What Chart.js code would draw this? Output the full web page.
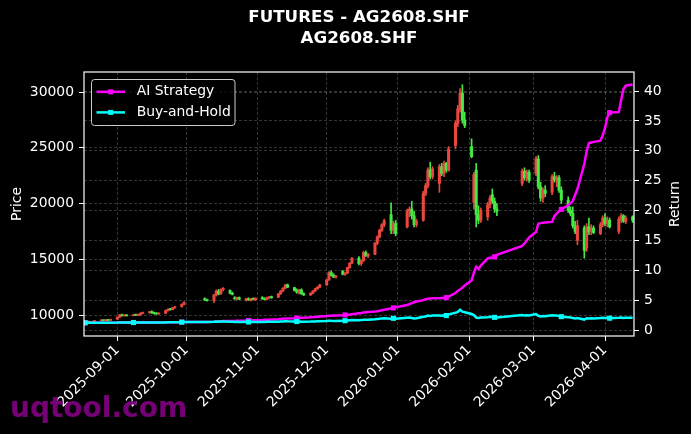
<!DOCTYPE html>
<html>
<head>
<meta charset="utf-8">
<title>FUTURES - AG2608.SHF</title>
<script src="https://cdn.jsdelivr.net/npm/chart.js@4.4.0/dist/chart.umd.min.js"></script>
<style>
  html, body { margin: 0; padding: 0; background: #000; }
  #wrap { width: 691px; height: 434px; }
</style>
</head>
<body>
<div id="wrap"><canvas id="chart" width="691" height="434"></canvas></div>
<script>
// trading days (SHFE calendar, holidays skipped)
const dates = [
  '2025-08-18','2025-08-19','2025-08-20','2025-08-21','2025-08-22','2025-08-25','2025-08-26','2025-08-27','2025-08-28','2025-08-29',
  '2025-09-01','2025-09-02','2025-09-03','2025-09-04','2025-09-05','2025-09-08','2025-09-09','2025-09-10','2025-09-11','2025-09-12',
  '2025-09-15','2025-09-16','2025-09-17','2025-09-18','2025-09-19','2025-09-22','2025-09-23','2025-09-24','2025-09-25','2025-09-26',
  '2025-09-29','2025-09-30',
  '2025-10-09','2025-10-10','2025-10-13','2025-10-14','2025-10-15','2025-10-16','2025-10-17','2025-10-20','2025-10-21','2025-10-22',
  '2025-10-23','2025-10-24','2025-10-27','2025-10-28','2025-10-29','2025-10-30','2025-10-31',
  '2025-11-03','2025-11-04','2025-11-05','2025-11-06','2025-11-07','2025-11-10','2025-11-11','2025-11-12','2025-11-13','2025-11-14',
  '2025-11-17','2025-11-18','2025-11-19','2025-11-20','2025-11-21','2025-11-24','2025-11-25','2025-11-26','2025-11-27','2025-11-28',
  '2025-12-01','2025-12-02','2025-12-03','2025-12-04','2025-12-05','2025-12-08','2025-12-09','2025-12-10','2025-12-11','2025-12-12',
  '2025-12-15','2025-12-16','2025-12-17','2025-12-18','2025-12-19','2025-12-22','2025-12-23','2025-12-24','2025-12-25','2025-12-26',
  '2025-12-29','2025-12-30','2025-12-31',
  '2026-01-05','2026-01-06','2026-01-07','2026-01-08','2026-01-09','2026-01-12','2026-01-13','2026-01-14','2026-01-15','2026-01-16',
  '2026-01-19','2026-01-20','2026-01-21','2026-01-22','2026-01-23','2026-01-26','2026-01-27','2026-01-28','2026-01-29','2026-01-30',
  '2026-02-02','2026-02-03','2026-02-04','2026-02-05','2026-02-06','2026-02-09','2026-02-10','2026-02-11','2026-02-12','2026-02-13',
  '2026-02-24','2026-02-25','2026-02-26','2026-02-27',
  '2026-03-02','2026-03-03','2026-03-04','2026-03-05','2026-03-06','2026-03-09','2026-03-10','2026-03-11','2026-03-12','2026-03-13',
  '2026-03-16','2026-03-17','2026-03-18','2026-03-19','2026-03-20','2026-03-23','2026-03-24','2026-03-25','2026-03-26','2026-03-27',
  '2026-03-30','2026-03-31',
  '2026-04-01','2026-04-02','2026-04-03','2026-04-07','2026-04-08','2026-04-09','2026-04-10','2026-04-13'
];

const opens = [
  9350,9380,9400,9350,9420,9480,9530,9490,9550,9520,
  9620,9800,10020,9940,9960,9950,10020,9980,10000,10150,
  10220,10300,10180,10130,10100,10150,10400,10500,10480,10650,10750,10950,
  11450,11350,11300,11800,12150,11900,12300,12200,11950,11500,11450,11550,11350,11450,11300,11450,11350,
  11550,11450,11400,11550,11600,11600,11900,12150,12400,12700,12450,12200,12050,12250,11900,11800,11950,12150,12350,12500,
  12700,13150,13800,13550,13400,13900,13650,13750,14250,14650,15100,14600,14850,15600,15300,15450,16450,17000,17600,18100,19000,17600,18200,
  17900,19300,19500,18900,18100,18500,20900,21600,23000,22400,21800,23300,22700,23600,23000,25200,27200,28500,29900,27500,
  25100,20100,23000,19000,18500,18800,19900,20800,20200,19500,
  21800,22900,22300,22800,22700,24000,21500,20500,21200,21000,22400,22100,22300,21200,
  20300,19400,19100,18000,16700,17800,16000,17900,17500,17800,17300,18100,18700,18200,18500,17500,18600,18900,18400,18800
];
const highs = [
  9420,9450,9430,9440,9500,9560,9560,9580,9600,9640,
  9850,10050,10080,10000,10010,10050,10080,10060,10200,10270,
  10300,10380,10260,10200,10180,10450,10550,10600,10700,10780,11000,11200,
  11550,11420,11850,12250,12300,12350,12450,12250,12050,11650,11600,11620,11500,11550,11500,11550,11550,
  11650,11550,11600,11650,11700,11950,12200,12450,12750,12780,12500,12350,12300,12350,12000,12000,12200,12400,12550,12750,
  13200,13900,13950,13700,13550,14000,13800,14300,14700,15150,15250,14900,15700,15750,15500,16500,17100,17700,18200,18600,20050,18400,18500,
  19500,19700,20200,19300,18600,21100,21800,23200,23700,23300,23500,23600,23800,23700,25100,27400,28800,30300,30650,28200,
  25800,22800,23600,19800,19600,20100,20700,21300,20500,20000,
  23100,23200,23000,23000,24200,24300,21900,21400,21600,22600,22800,22500,22500,21500,
  20600,19700,19700,18400,18500,18000,18200,18700,18100,18000,18300,18900,19100,18800,18700,18800,19100,19000,18900,18900
];
const lows = [
  9300,9330,9320,9330,9380,9450,9460,9470,9500,9500,
  9600,9780,9900,9880,9900,9920,9950,9940,9980,10100,
  10150,10150,10080,10050,10050,10130,10350,10420,10450,10600,10700,10900,
  11300,11250,11100,11700,11800,11850,12150,11900,11800,11400,11350,11380,11250,11300,11250,11350,11300,
  11400,11350,11350,11450,11500,11550,11850,12100,12350,12450,12150,11950,11900,11850,11750,11750,11900,12100,12300,12450,
  12650,13100,13500,13350,13300,13600,13550,13700,14200,14600,14500,14450,14800,15250,15150,15400,16300,16900,17500,17900,17300,17300,17100,
  17800,18800,18600,17900,17900,18400,20700,21400,22200,22200,21000,22500,22400,22800,22900,24900,26900,28200,27200,26800,
  24100,19500,17900,18200,18300,18500,19600,20000,19200,18900,
  21600,22100,22000,21900,22500,21300,20200,20100,20600,20800,21900,21500,21000,20000,
  19200,18900,17800,17300,16300,15100,15700,17200,17200,17300,17200,17900,18000,17900,17800,17300,18300,18300,18200,18300
];
const closes = [
  9380,9400,9350,9420,9470,9530,9490,9550,9520,9610,
  9800,10000,9940,9960,9930,10010,9980,10000,10150,10220,
  10280,10180,10120,10100,10150,10400,10500,10480,10650,10720,10950,11100,
  11350,11300,11800,12150,11900,12300,12400,11950,11850,11450,11550,11420,11450,11350,11450,11400,11500,
  11450,11400,11550,11600,11550,11900,12150,12400,12700,12500,12200,12050,12250,11900,11800,11950,12150,12350,12500,12700,
  13150,13800,13550,13400,13450,13650,13750,14250,14650,15100,14600,14850,15600,15300,15450,16450,17000,17600,18100,18450,17600,18200,17300,
  19300,19500,18900,18100,18400,20900,21600,23000,22400,23100,23300,22700,23600,23000,24900,27200,28500,29900,27500,27000,
  24200,22600,19000,18500,19400,19900,20500,20200,19500,19300,
  22900,22300,22800,22100,24000,21500,20500,21200,20900,22400,22100,22300,21200,20300,
  19400,19100,18000,17500,18000,15800,17900,17500,17800,17400,18100,18700,18200,18500,17900,18600,18900,18400,18700,18500
];

const aiStrategy = [
  1.21,1.21,1.20,1.21,1.22,1.22,1.22,1.23,1.22,1.23,
  1.24,1.26,1.25,1.25,1.25,1.26,1.25,1.26,1.27,1.27,
  1.28,1.27,1.27,1.26,1.27,1.28,1.29,1.29,1.30,1.30,1.32,1.33,
  1.35,1.36,1.40,1.43,1.45,1.48,1.50,1.51,1.52,1.53,1.55,1.56,1.58,1.60,1.62,1.63,1.65,
  1.68,1.70,1.72,1.74,1.76,1.80,1.84,1.88,1.92,1.93,1.96,2.00,2.03,2.05,2.07,2.12,2.16,2.20,2.24,2.28,
  2.33,2.38,2.40,2.42,2.44,2.48,2.52,2.56,2.60,2.65,2.80,2.85,2.92,2.96,3.00,3.10,3.15,3.22,3.30,3.38,3.60,3.70,3.80,
  4.20,4.35,4.50,4.65,4.78,5.00,5.15,5.22,5.26,5.30,5.34,5.36,5.38,5.42,5.60,6.20,6.55,6.80,7.10,7.45,
  8.30,9.60,10.60,10.20,10.80,12.00,12.10,12.15,12.25,12.60,
  14.10,14.50,15.00,15.50,16.40,17.80,17.90,17.95,18.00,18.10,19.10,19.50,19.90,20.20,
  20.90,21.20,21.60,22.60,23.60,27.80,29.90,31.30,31.40,31.50,31.70,32.60,33.80,35.60,36.40,36.50,38.50,40.30,40.90,41.10
];
const buyHold = [
  1.21,1.21,1.20,1.21,1.22,1.22,1.22,1.23,1.22,1.23,
  1.24,1.26,1.25,1.25,1.25,1.26,1.25,1.26,1.27,1.27,
  1.28,1.27,1.27,1.26,1.27,1.28,1.29,1.29,1.30,1.30,1.32,1.33,
  1.35,1.35,1.39,1.42,1.40,1.43,1.44,1.40,1.39,1.36,1.37,1.35,1.36,1.35,1.36,1.35,1.36,
  1.36,1.35,1.37,1.37,1.37,1.40,1.42,1.44,1.47,1.45,1.43,1.42,1.43,1.40,1.40,1.41,1.43,1.44,1.46,1.47,
  1.51,1.56,1.54,1.53,1.53,1.55,1.56,1.60,1.64,1.68,1.64,1.66,1.72,1.70,1.71,1.80,1.85,1.90,1.95,1.98,1.90,1.96,1.88,
  2.06,2.08,2.02,1.95,1.98,2.22,2.28,2.42,2.36,2.43,2.45,2.39,2.48,2.42,2.62,2.88,3.04,3.40,3.08,2.98,
  2.68,2.50,2.08,2.02,2.10,2.15,2.21,2.18,2.12,2.10,
  2.50,2.44,2.49,2.42,2.66,2.38,2.28,2.35,2.32,2.46,2.43,2.45,2.33,2.24,
  2.14,2.11,2.00,1.95,2.00,1.75,1.98,1.94,1.97,1.93,2.00,2.06,2.01,2.04,1.98,2.05,2.08,2.03,2.06,2.04
];

const monthTicks = ['2025-09-01','2025-10-01','2025-11-01','2025-12-01','2026-01-01','2026-02-01','2026-03-01','2026-04-01'];
const priceTicks = [10000, 15000, 20000, 25000, 30000];
const returnTicks = [0, 5, 10, 15, 20, 25, 30, 35, 40];

// --- helpers ---
const DAY_MS = 86400000;
const BASE = Date.UTC(2025, 8, 1);
const toDay = s => {
  const [y, m, d] = s.split('-').map(Number);
  return (Date.UTC(y, m - 1, d) - BASE) / DAY_MS;
};
const xDays = dates.map(toDay);

const FONT = 'DejaVu Sans';
const UP = '#e8463f';
const DOWN = '#46e846';
const GRID = 'rgba(255,255,255,0.26)';
const candleColor = ctx => (closes[ctx.dataIndex] >= opens[ctx.dataIndex] ? UP : DOWN);
const markEvery = 15;

const tickFont = { family: FONT, size: 13.9 };

// black figure background
const bgPlugin = {
  id: 'bg',
  beforeDraw(chart) {
    const ctx = chart.ctx;
    ctx.save();
    ctx.fillStyle = '#000';
    ctx.fillRect(0, 0, chart.width, chart.height);
    ctx.restore();
  }
};

// axes frame + legend box drawn matplotlib-style inside the plot
const frameLegendPlugin = {
  id: 'frameLegend',
  afterDatasetsDraw(chart) {
    const { ctx, chartArea: a } = chart;
    ctx.save();
    ctx.strokeStyle = '#fff';
    ctx.lineWidth = 1.2;
    ctx.strokeRect(a.left, a.top, a.right - a.left, a.bottom - a.top);

    const x0 = a.left + 7.5, y0 = a.top + 7.5, w = 143.5, h = 46, r = 3;
    ctx.beginPath();
    ctx.moveTo(x0 + r, y0);
    ctx.arcTo(x0 + w, y0, x0 + w, y0 + h, r);
    ctx.arcTo(x0 + w, y0 + h, x0, y0 + h, r);
    ctx.arcTo(x0, y0 + h, x0, y0, r);
    ctx.arcTo(x0, y0, x0 + w, y0, r);
    ctx.closePath();
    ctx.fillStyle = 'rgba(0,0,0,0.8)';
    ctx.fill();
    ctx.strokeStyle = '#cccccc';
    ctx.lineWidth = 1;
    ctx.stroke();

    const items = chart.data.datasets.filter(d => d.type === 'line');
    items.forEach((d, i) => {
      const y = y0 + 12.3 + i * 20.6;
      ctx.strokeStyle = d.borderColor;
      ctx.lineWidth = 2.5;
      ctx.beginPath();
      ctx.moveTo(x0 + 5, y);
      ctx.lineTo(x0 + 33.5, y);
      ctx.stroke();
      ctx.fillStyle = d.borderColor;
      ctx.fillRect(x0 + 19.2 - 2.5, y - 2.5, 5, 5);
      ctx.fillStyle = '#fff';
      ctx.font = `13.9px ${FONT}`;
      ctx.textBaseline = 'middle';
      ctx.textAlign = 'left';
      ctx.fillText(d.label, x0 + 45.2, y);
    });
    ctx.restore();
  },
  afterDraw(chart) {
    const { ctx, chartArea: a } = chart;
    ctx.save();
    // right axis label reads bottom-to-top like matplotlib
    ctx.translate(675, (a.top + a.bottom) / 2);
    ctx.rotate(-Math.PI / 2);
    ctx.fillStyle = '#fff';
    ctx.font = `13.9px ${FONT}`;
    ctx.textAlign = 'center';
    ctx.textBaseline = 'middle';
    ctx.fillText('Return', 0, 0);
    ctx.restore();

    ctx.save();
    ctx.font = `bold 28px ${FONT}`;
    ctx.fillStyle = 'rgba(128,0,128,0.92)';
    ctx.textAlign = 'left';
    ctx.textBaseline = 'alphabetic';
    ctx.fillText('uqtool.com', 10, 417);
    ctx.restore();
  }
};

const chart = new Chart(document.getElementById('chart'), {
  type: 'bar',
  data: {
    datasets: [
      {
        type: 'line',
        label: 'AI Strategy',
        data: xDays.map((x, i) => ({ x, y: aiStrategy[i] })),
        yAxisID: 'y1',
        borderColor: '#ff00ff',
        backgroundColor: '#ff00ff',
        borderWidth: 2.5,
        tension: 0,
        pointStyle: 'rect',
        pointRadius: ctx => (ctx.dataIndex % markEvery === 0 ? 3.6 : 0),
        pointBorderWidth: 0,
        order: 1
      },
      {
        type: 'line',
        label: 'Buy-and-Hold',
        data: xDays.map((x, i) => ({ x, y: buyHold[i] })),
        yAxisID: 'y1',
        borderColor: '#00ffff',
        backgroundColor: '#00ffff',
        borderWidth: 2.5,
        tension: 0,
        pointStyle: 'rect',
        pointRadius: ctx => (ctx.dataIndex % markEvery === 0 ? 3.6 : 0),
        pointBorderWidth: 0,
        order: 0
      },
      {
        type: 'bar',
        label: 'body',
        data: xDays.map((x, i) => ({ x, y: [opens[i], closes[i]] })),
        yAxisID: 'y',
        backgroundColor: candleColor,
        barThickness: 2.4,
        minBarLength: 1,
        grouped: false,
        order: 2
      },
      {
        type: 'bar',
        label: 'wick',
        data: xDays.map((x, i) => ({ x, y: [lows[i], highs[i]] })),
        yAxisID: 'y',
        backgroundColor: candleColor,
        barThickness: 1,
        grouped: false,
        order: 3
      }
    ]
  },
  options: {
    responsive: false,
    animation: false,
    events: [],
    layout: { padding: 0 },
    plugins: {
      legend: { display: false },
      tooltip: { enabled: false },
      title: {
        display: true,
        fullSize: false,
        text: ['FUTURES - AG2608.SHF', 'AG2608.SHF'],
        color: '#fff',
        font: { family: FONT, size: 16.7, weight: 'bold', lineHeight: 1.25 },
        padding: { top: 7.6, bottom: 22.65 }
      }
    },
    scales: {
      x: {
        type: 'linear',
        min: -14.5,
        max: 224.6,
        offset: false,
        afterBuildTicks: s => { s.ticks = monthTicks.map(t => ({ value: toDay(t) })); },
        afterFit: s => { s.height = 98; },
        ticks: {
          color: '#fff',
          font: tickFont,
          autoSkip: false,
          minRotation: 45,
          maxRotation: 45,
          padding: 1,
          callback: v => monthTicks.find(t => toDay(t) === v) || ''
        },
        grid: { color: GRID, lineWidth: 0.8, offset: false, tickLength: 5, tickColor: '#fff', tickWidth: 1, tickBorderDash: [] },
        border: { display: false, dash: [3, 2] }
      },
      y: {
        position: 'left',
        min: 8117,
        max: 31794,
        afterBuildTicks: s => { s.ticks = priceTicks.map(v => ({ value: v })); },
        afterFit: s => { s.width = 84; },
        ticks: { color: '#fff', font: tickFont, padding: 5, callback: v => String(v) },
        grid: { color: GRID, lineWidth: 0.8, tickLength: 5, tickColor: '#fff', tickWidth: 1, tickBorderDash: [] },
        border: { display: false, dash: [3, 2] },
        title: { display: true, text: 'Price', color: '#fff', font: tickFont, padding: { top: 8.7, bottom: 0 } }
      },
      y1: {
        position: 'right',
        min: -1.0,
        max: 43.2,
        afterBuildTicks: s => { s.ticks = returnTicks.map(v => ({ value: v })); },
        afterFit: s => { s.width = 57; },
        ticks: { color: '#fff', font: tickFont, padding: 5, callback: v => String(v) },
        grid: { color: GRID, lineWidth: 0.8, tickLength: 5, tickColor: '#fff', tickWidth: 1, tickBorderDash: [] },
        border: { display: false, dash: [3, 2] }
      }
    }
  },
  plugins: [bgPlugin, frameLegendPlugin]
});
</script>
</body>
</html>
